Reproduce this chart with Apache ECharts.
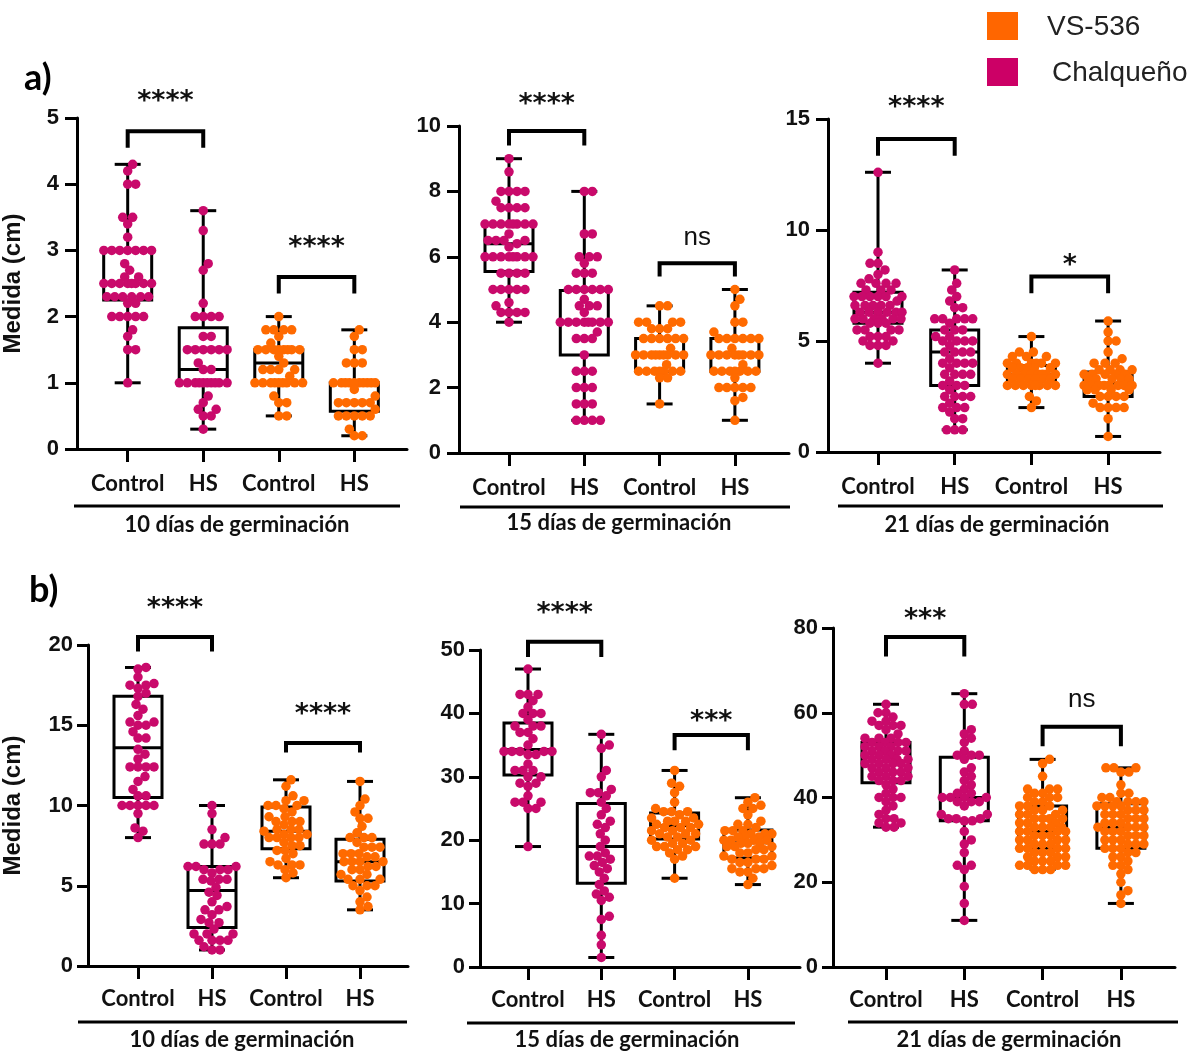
<!DOCTYPE html>
<html>
<head>
<meta charset="utf-8">
<script src="https://cdn.jsdelivr.net/npm/echarts@6/dist/echarts.min.js"></script>
<style>
html, body { margin: 0; padding: 0; background: #fff; }
#main { width: 1199px; height: 1053px; }
</style>
</head>
<body>
<div id="main"></div>
<script>
// categorias del eje x (Chalqueño: 0,1 / VS-536: 2,3)
var cats = ['Control', 'HS', 'Control', 'HS'];
var panelTitles = ['10 días de germinación', '15 días de germinación', '21 días de germinación',
                   '10 días de germinación', '15 días de germinación', '21 días de germinación'];
var yMax = [5, 10, 15, 20, 50, 80];
var yStep = [1, 2, 5, 5, 10, 20];

// ---- a) 10 dias
var a10ChalCtrl = [4.3,4.2,4.0,4.0,3.5,3.5,3.4,3.2,3.0,3.0,3.0,3.0,3.0,3.0,3.0,2.8,2.7,2.6,2.6,2.5,2.5,2.5,2.5,2.5,2.5,2.5,2.5,2.3,2.3,2.3,2.3,2.3,2.3,2.2,2.2,2.0,2.0,2.0,2.0,2.0,1.8,1.7,1.5,1.5,1.0];
var a10ChalHS = [3.6,3.3,2.8,2.7,2.2,2.0,2.0,2.0,2.0,1.7,1.7,1.5,1.5,1.5,1.5,1.5,1.5,1.3,1.2,1.2,1.0,1.0,1.0,1.0,1.0,1.0,1.0,1.0,1.0,1.0,0.8,0.7,0.6,0.6,0.5,0.5,0.3];
var a10VsCtrl = [2.0,1.8,1.8,1.8,1.8,1.7,1.6,1.5,1.5,1.5,1.5,1.5,1.5,1.5,1.5,1.4,1.3,1.2,1.2,1.2,1.2,1.1,1.0,1.0,1.0,1.0,1.0,1.0,1.0,1.0,1.0,0.8,0.7,0.7,0.5,0.5];
var a10VsHS = [1.8,1.7,1.5,1.5,1.3,1.3,1.3,1.0,1.0,1.0,1.0,1.0,1.0,1.0,1.0,1.0,1.0,0.9,0.8,0.7,0.7,0.7,0.7,0.7,0.6,0.5,0.5,0.5,0.5,0.5,0.3,0.2,0.2];
var a10Box = [[1.0,2.25,2.5,3.0,4.3],[0.3,1.0,1.2,1.83,3.6],[0.5,1.0,1.3,1.5,2.0],[0.2,0.57,1.0,1.0,1.8]];

// ---- a) 15 dias
var a15ChalCtrl = [9.0,8.6,8.0,8.0,8.0,8.0,7.7,7.5,7.5,7.5,7.5,7.0,7.0,7.0,7.0,7.0,7.0,7.0,7.0,6.7,6.5,6.5,6.5,6.5,6.4,6.3,6.0,6.0,6.0,6.0,6.0,6.0,6.0,6.0,5.5,5.5,5.5,5.5,5.0,5.0,5.0,5.0,5.0,4.6,4.5,4.3,4.3,4.3,4.3,4.0];
var a15ChalHS = [8.0,8.0,6.7,6.7,6.0,6.0,6.0,5.8,5.5,5.5,5.5,5.0,5.0,5.0,5.0,5.0,5.0,4.7,4.5,4.5,4.5,4.3,4.0,4.0,4.0,4.0,4.0,4.0,4.0,4.0,3.7,3.5,3.5,3.5,3.0,2.5,2.5,2.5,2.0,2.0,2.0,1.5,1.5,1.5,1.0,1.0,1.0,1.0];
var a15VsCtrl = [4.5,4.5,4.0,4.0,4.0,4.0,3.8,3.8,3.8,3.5,3.5,3.5,3.5,3.5,3.5,3.2,3.0,3.0,3.0,3.0,3.0,3.0,3.0,3.0,3.0,2.7,2.5,2.5,2.5,2.5,2.5,2.5,2.5,2.3,2.3,1.5];
var a15VsHS = [5.0,4.7,4.5,4.0,4.0,3.7,3.5,3.5,3.5,3.5,3.5,3.5,3.2,3.0,3.0,3.0,3.0,3.0,3.0,3.0,3.0,2.7,2.5,2.5,2.5,2.5,2.5,2.5,2.5,2.3,2.0,2.0,2.0,2.0,2.0,1.7,1.6,1.0];
var a15Box = [[4.0,5.55,6.4,7.0,9.0],[1.0,3.0,4.0,4.97,8.0],[1.5,2.5,3.0,3.5,4.5],[1.0,2.5,3.0,3.5,5.0]];

// ---- a) 21 dias
var a21ChalCtrl = [12.6,9.0,8.5,8.5,8.2,8.0,7.8,7.6,7.6,7.6,7.6,7.3,7.3,7.3,7.0,7.0,7.0,7.0,7.0,7.0,6.8,6.6,6.6,6.6,6.6,6.6,6.3,6.3,6.3,6.3,6.3,6.3,6.0,6.0,6.0,6.0,6.0,6.0,5.8,5.8,5.8,5.5,5.5,5.5,5.5,5.2,5.2,5.2,5.0,5.0,4.8,4.8,4.8,4.0];
var a21ChalHS = [8.2,7.6,7.3,7.0,6.8,6.5,6.5,6.0,6.0,6.0,6.0,6.0,5.8,5.5,5.5,5.5,5.2,5.2,5.0,5.0,5.0,5.0,4.8,4.5,4.5,4.5,4.5,4.2,4.0,4.0,4.0,4.0,3.8,3.5,3.5,3.5,3.5,3.2,3.0,3.0,3.0,2.8,2.5,2.5,2.5,2.5,2.2,2.0,2.0,2.0,1.8,1.5,1.5,1.0,1.0,1.0];
var a21VsCtrl = [5.2,4.5,4.5,4.3,4.3,4.3,4.0,4.0,4.0,4.0,4.0,4.0,3.8,3.8,3.8,3.8,3.8,3.5,3.5,3.5,3.5,3.5,3.5,3.5,3.5,3.3,3.3,3.3,3.3,3.3,3.3,3.0,3.0,3.0,3.0,3.0,3.0,3.0,3.0,2.5,2.3,2.0];
var a21VsHS = [5.9,5.4,5.0,5.0,4.5,4.2,4.0,4.0,4.0,3.7,3.7,3.7,3.7,3.5,3.5,3.5,3.5,3.5,3.3,3.3,3.3,3.3,3.3,3.0,3.0,3.0,3.0,3.0,3.0,3.0,3.0,2.8,2.8,2.8,2.8,2.5,2.5,2.5,2.5,2.2,2.0,2.0,2.0,2.0,1.5,0.7];
var a21Box = [[4.0,5.8,6.3,7.2,12.6],[1.0,3.0,4.5,5.5,8.2],[2.0,3.0,3.5,3.9,5.2],[0.7,2.5,3.1,3.6,5.9]];

// ---- b) 10 dias
var b10ChalCtrl = [18.6,18.5,18.0,17.6,17.5,17.5,17.3,17.0,16.8,16.3,16.0,15.6,15.2,15.2,15.0,15.0,14.6,14.2,14.2,13.5,13.2,12.9,12.4,12.4,12.4,12.4,11.8,11.5,11.0,10.6,10.6,10.0,10.0,10.0,10.0,10.0,9.5,8.6,8.4,8.0];
var b10ChalHS = [10.0,9.5,8.5,8.0,7.6,7.6,7.6,6.2,6.2,6.2,6.0,6.0,6.0,5.8,5.4,5.4,5.4,5.3,4.9,4.6,4.4,4.0,3.7,3.5,3.5,3.2,2.9,2.7,2.7,2.3,2.0,2.0,2.0,1.6,1.6,1.6,1.6,1.2,1.0,1.0];
var b10VsCtrl = [11.6,11.2,10.6,10.3,10.3,10.0,10.0,10.0,9.8,9.6,9.3,9.3,9.0,9.0,9.0,8.8,8.5,8.5,8.5,8.4,8.2,8.2,8.0,8.0,8.0,8.0,7.7,7.5,7.5,7.2,7.2,7.0,6.7,6.5,6.3,6.3,6.3,6.0,5.8,5.5];
var b10VsHS = [11.5,10.4,10.0,9.6,9.2,9.2,8.7,8.3,8.0,8.0,8.0,7.7,7.4,7.4,7.4,7.0,7.0,7.0,6.8,6.8,6.5,6.5,6.5,6.5,6.2,6.2,6.0,6.0,5.7,5.7,5.4,5.4,5.4,5.0,5.0,5.0,4.7,4.3,4.0,3.7,3.5];
var b10Box = [[8.0,10.5,13.6,16.8,18.6],[1.0,2.4,4.7,6.2,10.0],[5.5,7.3,8.4,9.9,11.6],[3.5,5.3,6.5,7.9,11.5]];

// ---- b) 15 dias
var b15ChalCtrl = [47,43,43,43,42,41,40,40,40,39,38,38,38,37,37,36,35,34,34,34,34,34,33.5,33.5,32,31,31,31,30,30,29,29,28.5,27,26,26,26,25,25,19];
var b15ChalHS = [36.7,35,34.5,31,30,28,27.5,27.5,27,26,25,24,23,22.5,22,21,20,19,18,17.5,17.5,17,16.5,16,15.5,15,14,13,12,11.5,11,10.5,8,7.5,5,3.5,1.5];
var b15VsCtrl = [31,29,28.5,27.5,26,25,24.5,24.5,24.5,24,23.5,23.5,23,23,23,22.5,22.5,22,22,22,21.5,21.5,21,21,21,20.5,20.5,20,20,19.5,19.5,19,19,19,18.5,18.5,18,17.5,17,14];
var b15VsHS = [26.7,26,25.5,25,25,24,23,22.5,22.5,22,21.5,21.5,21.5,21,21,21,20.5,20.5,20.5,20,20,20,20,19.5,19.5,19.5,19,19,19,18.5,18.5,18,18,17.5,17.5,17,17,17,16.5,16.5,16,15.5,15.5,15.5,15,15,14,13];
var b15Box = [[19,30.3,34.3,38.5,47],[1.5,13.2,19,25.8,36.7],[14,20.2,22.3,24.3,31],[13,17.2,19.6,21.6,26.7]];

// ---- b) 21 dias
var b21ChalCtrl = [62,60,60,59,58,58,57,57,57,56,55,54,54,54,53,53,53,53,52,52,52,51,51,51,51,50,50,50,49,49,49,49,48,48,48,48,47,47,47,46,46,46,45,45,45,44,44,44,43,42,41,40,40,40,39,38,37,36,35,35,34,34,33,33];
var b21ChalHS = [64.5,62,62,56,55,54,53,51,50,50,50,49,47,46,45,44,43,42,41,41,40,40,40,40,39,39,39,38,36,36,35,35,35,34.5,34.5,32,30,29,27,24,24,23,19,15,11];
var b21VsCtrl = [49,48,45,42,42,42,41,41,40,40,40,39,39,38,38,38,37,37,37,36,36,36,35,35,35,35,34,34,34,33,33,33,33,32,32,32,32,31,31,31,30,30,30,30,29,29,29,28,28,28,28,27,27,27,26,26,26,25,25,25,24,24,24,24,23,23,23];
var b21VsHS = [47,47,47,46,46,43,41,41,40,40,39,39,39,39,38,38,38,38,37,37,37,36,36,36,35,35,35,34,34,34,33,33,33,33,32,32,32,31,31,31,30,30,30,29,29,29,28,28,28,27,27,26,26,25,24,24,23,22,20,18,17,15];
var b21Box = [[33,43.5,48.5,53,62],[11,34.5,40,49.5,64.5],[23,28,32,38,49],[15,28,33,38.5,47]];

// significancia: [cat1, cat2, y barra, y extremo, y texto, texto]
var sigA10 = [[0, 1, 4.8, 4.55, 5.35, '****'], [2, 3, 2.6, 2.35, 3.14, '****']];
var sigA15 = [[0, 1, 9.85, 9.4, 10.85, '****'], [2, 3, 5.8, 5.4, 6.5, 'ns']];
var sigA21 = [[0, 1, 14.1, 13.35, 15.8, '****'], [2, 3, 7.9, 7.15, 8.7, '*']];
var sigB10 = [[0, 1, 20.5, 19.6, 22.7, '****'], [2, 3, 13.9, 13.3, 16.1, '****']];
var sigB15 = [[0, 1, 51.3, 48.9, 56.8, '****'], [2, 3, 36.6, 34.2, 39.8, '***']];
var sigB21 = [[0, 1, 77.9, 73.3, 83.5, '***'], [2, 3, 56.7, 52.1, 62.3, 'ns']];

var groups = [
    [a10ChalCtrl, a10ChalHS, a10VsCtrl, a10VsHS],
    [a15ChalCtrl, a15ChalHS, a15VsCtrl, a15VsHS],
    [a21ChalCtrl, a21ChalHS, a21VsCtrl, a21VsHS],
    [b10ChalCtrl, b10ChalHS, b10VsCtrl, b10VsHS],
    [b15ChalCtrl, b15ChalHS, b15VsCtrl, b15VsHS],
    [b21ChalCtrl, b21ChalHS, b21VsCtrl, b21VsHS]
];
var boxes = [a10Box, a15Box, a21Box, b10Box, b15Box, b21Box];
var sigs = [sigA10, sigA15, sigA21, sigB10, sigB15, sigB21];

var MAGENTA = '#c90a6b';
var ORANGE = '#ff6a00';
var groupColors = [MAGENTA, MAGENTA, ORANGE, ORANGE];

// posicion de cada panel (px): eje y, fin eje x, arriba, abajo, centro cat 0, separacion
var layout = [
    {L: 75, R: 407, T: 118, B: 449, c0: 126, s: 76},
    {L: 459, R: 789, T: 126, B: 453, c0: 509, s: 75.3},
    {L: 828, R: 1160, T: 119, B: 452, c0: 878, s: 76.7},
    {L: 88, R: 408, T: 645, B: 966, c0: 138, s: 74},
    {L: 480, R: 800, T: 650, B: 967, c0: 528, s: 73.3},
    {L: 833, R: 1175, T: 628, B: 967, c0: 886, s: 78.3}
];

// beeswarm determinista: busca el hueco libre mas cercano al centro,
// sin pasar de un ancho maximo; si no hay, el menos encimado
function swarm(vals, pxY, pxX, minDist, cap) {
    var order = vals.map(function (v, i) { return i; }).sort(function (a, b) { return vals[a] - vals[b]; });
    var placed = [];
    var out = new Array(vals.length);
    order.forEach(function (i) {
        var y = vals[i] * pxY;
        var best = 0, bestD = -1, found = false;
        for (var k = 0; k <= 2 * cap; k++) {
            var off = k === 0 ? 0 : (k % 2 ? 1 : -1) * Math.ceil(k / 2);
            var dmin = Infinity;
            placed.forEach(function (p) {
                var dx = p[0] - off, dy = p[1] - y;
                var d = Math.sqrt(dx * dx + dy * dy);
                if (d < dmin) dmin = d;
            });
            if (dmin >= minDist) { best = off; found = true; break; }
            if (dmin > bestD + 0.5) { bestD = dmin; best = off; }
        }
        placed.push([best, y]);
        out[i] = best / pxX;
    });
    return out;
}

var chart = echarts.init(document.getElementById('main'), null, {renderer: 'canvas'});

var grids = [], xAxes = [], yAxes = [], series = [];
layout.forEach(function (g, i) {
    grids.push({left: g.L, top: g.T, width: g.R - g.L, height: g.B - g.T});
    xAxes.push({
        gridIndex: i, type: 'value',
        min: (g.L - g.c0) / g.s, max: (g.R - g.c0) / g.s,
        splitLine: {show: false},
        axisLine: {show: true, onZero: false, lineStyle: {color: '#000', width: 3}},
        axisTick: {show: true, customValues: [0, 1, 2, 3], length: 13, lineStyle: {color: '#000', width: 3}},
        axisLabel: {
            customValues: [0, 1, 2, 3],
            formatter: function (v) { return cats[Math.round(v)]; },
            fontFamily: 'Lato', fontWeight: 'bold', fontSize: 22, color: '#111',
            margin: i < 3 ? 24 : 22
        }
    });
    yAxes.push({
        gridIndex: i, type: 'value', min: 0, max: yMax[i], interval: yStep[i],
        name: (i === 0 || i === 3) ? 'Medida (cm)' : '',
        nameLocation: 'middle', nameRotate: 90, nameGap: i === 0 ? 52 : 63,
        nameTextStyle: {fontFamily: 'Liberation Sans', fontWeight: 'bold', fontSize: 24, color: '#111'},
        splitLine: {show: false},
        axisLine: {show: true, onZero: false, lineStyle: {color: '#000', width: 3}},
        axisTick: {show: true, length: i < 3 ? 12 : 11, lineStyle: {color: '#000', width: 3}},
        axisLabel: {fontFamily: 'Liberation Sans', fontWeight: 'bold', fontSize: 22, color: '#111', margin: i < 3 ? 18 : 15}
    });

    // cajas
    series.push({
        type: 'custom', xAxisIndex: i, yAxisIndex: i, z: 1, silent: true,
        data: boxes[i].map(function (b, k) { return [k].concat(b); }),
        renderItem: function (params, api) {
            var x = api.value(0);
            var lo = api.coord([x, api.value(1)]), q1 = api.coord([x, api.value(2)]),
                md = api.coord([x, api.value(3)]), q3 = api.coord([x, api.value(4)]),
                hi = api.coord([x, api.value(5)]);
            var cx = lo[0], hw = 24, cw = 13;
            var st = {stroke: '#000', lineWidth: 3, fill: null};
            return {type: 'group', children: [
                {type: 'line', shape: {x1: cx, y1: hi[1], x2: cx, y2: q3[1]}, style: st},
                {type: 'line', shape: {x1: cx, y1: q1[1], x2: cx, y2: lo[1]}, style: st},
                {type: 'line', shape: {x1: cx - cw, y1: hi[1], x2: cx + cw, y2: hi[1]}, style: st},
                {type: 'line', shape: {x1: cx - cw, y1: lo[1], x2: cx + cw, y2: lo[1]}, style: st},
                {type: 'rect', shape: {x: cx - hw, y: q3[1], width: 2 * hw, height: q1[1] - q3[1]}, style: st},
                {type: 'line', shape: {x1: cx - hw, y1: md[1], x2: cx + hw, y2: md[1]}, style: st}
            ]};
        }
    });

    // puntos
    var pxY = (g.B - g.T) / yMax[i];
    groups[i].forEach(function (vals, k) {
        var offs = swarm(vals, pxY, g.s, 8, 24);
        series.push({
            type: 'scatter', xAxisIndex: i, yAxisIndex: i, z: 2, silent: true,
            symbolSize: 9.5,
            itemStyle: {color: groupColors[k], opacity: 1},
            data: vals.map(function (v, j) { return [k + offs[j], v]; })
        });
    });

    // barras de significancia
    series.push({
        type: 'custom', xAxisIndex: i, yAxisIndex: i, z: 3, silent: true,
        data: sigs[i].map(function (s) { return s.slice(0, 5); }),
        renderItem: function (params, api) {
            var s = sigs[i][params.dataIndex];
            var a = api.coord([s[0], s[2]]), b = api.coord([s[1], s[2]]);
            var ae = api.coord([s[0], s[3]]), be = api.coord([s[1], s[3]]);
            var t = api.coord([(s[0] + s[1]) / 2, s[4]]);
            var isNs = s[5] === 'ns';
            return {type: 'group', children: [
                {type: 'polyline', shape: {points: [ae, a, b, be]}, style: {stroke: '#000', lineWidth: 4, fill: null}},
                {type: 'text', x: t[0], y: t[1] + (isNs ? -3 : 7), style: {
                    text: s[5], align: 'center', verticalAlign: 'middle',
                    fontFamily: isNs ? 'Liberation Sans' : 'DejaVu Sans',
                    fontWeight: isNs ? 'normal' : 'bold',
                    fontSize: isNs ? 26 : 27, fill: '#111'
                }}
            ]};
        }
    });
});

// lineas y titulos de cada grupo de dias
var underlines = [[74, 400, 506], [460, 790, 507], [838, 1163, 506], [78, 407, 1022], [467, 795, 1023], [848, 1178, 1022]];
var titlePos = [[237, 525], [619, 523], [997, 525], [242, 1040], [627, 1040], [1009, 1040]];
var graphics = [];
underlines.forEach(function (u, i) {
    graphics.push({type: 'line', shape: {x1: u[0], y1: u[2], x2: u[1], y2: u[2]}, style: {stroke: '#000', lineWidth: 3}});
    graphics.push({type: 'text', x: titlePos[i][0], y: titlePos[i][1], style: {
        text: panelTitles[i], align: 'center', verticalAlign: 'middle',
        fontFamily: 'Lato', fontWeight: 'bold', fontSize: 22, fill: '#111'
    }});
});
graphics.push({type: 'text', x: 24, y: 78, style: {text: 'a)', verticalAlign: 'middle', fontFamily: 'Lato', fontWeight: 'bold', fontSize: 36, fill: '#000'}});
graphics.push({type: 'text', x: 29, y: 590, style: {text: 'b)', verticalAlign: 'middle', fontFamily: 'Lato', fontWeight: 'bold', fontSize: 36, fill: '#000'}});
// leyenda
graphics.push({type: 'rect', shape: {x: 987, y: 12, width: 31, height: 28}, style: {fill: '#ff6600'}});
graphics.push({type: 'rect', shape: {x: 987, y: 58, width: 31, height: 28}, style: {fill: '#cc0066'}});
graphics.push({type: 'text', x: 1047, y: 27, style: {text: 'VS-536', verticalAlign: 'middle', fontFamily: 'Liberation Sans', fontSize: 28, fill: '#222'}});
graphics.push({type: 'text', x: 1052, y: 73, style: {text: 'Chalqueño', verticalAlign: 'middle', fontFamily: 'Liberation Sans', fontSize: 28, fill: '#222'}});

chart.setOption({
    animation: false,
    backgroundColor: '#fff',
    grid: grids,
    xAxis: xAxes,
    yAxis: yAxes,
    series: series,
    graphic: graphics
});

window.addEventListener('resize', function () {
    chart.resize();
});
</script>
</body>
</html>
